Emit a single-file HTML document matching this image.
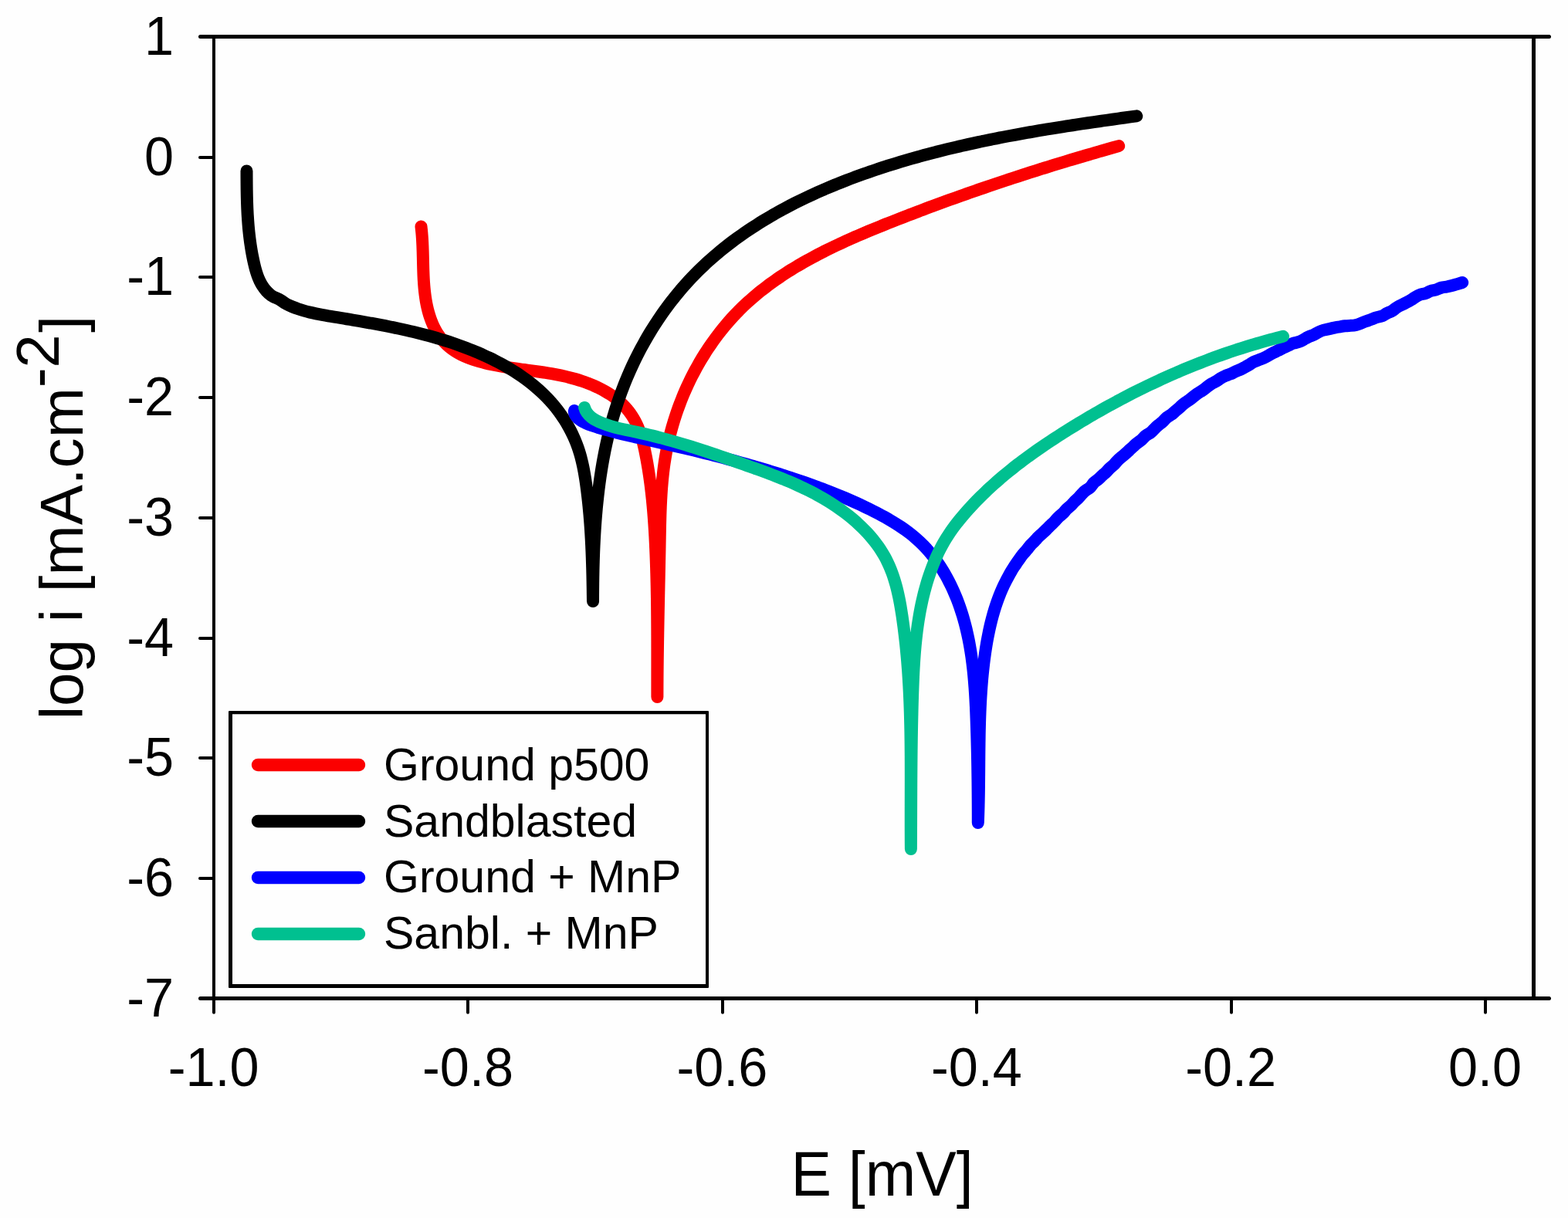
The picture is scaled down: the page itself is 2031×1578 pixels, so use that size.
<!DOCTYPE html>
<html lang="en">
<head>
<meta charset="utf-8">
<title>Polarization curves</title>
<style>
html,body{margin:0;padding:0;background:#fefefe;}
body{width:2031px;height:1578px;overflow:hidden;}
svg{display:block;}
text{font-family:"Liberation Sans",Arial,Helvetica,sans-serif;fill:#000;}
.tick{font-size:68.4px;}
.axt{font-size:78.7px;}
.leg{font-size:59.0px;}
.ax{stroke:#000;fill:none;stroke-linecap:butt;}
.cv{fill:none;stroke-width:16;stroke-linecap:round;stroke-linejoin:round;}
</style>
</head>
<body>
<svg width="2031" height="1578" viewBox="0 0 2031 1578">
<rect x="0" y="0" width="2031" height="1578" fill="#fefefe"/>
<g id="curves">
<path class="cv" stroke="#fb0000" d="M545.50 293.50C545.83 296.22 546.11 298.94 546.35 301.63C546.59 304.33 546.79 307.02 546.96 309.70C547.12 312.38 547.26 315.04 547.37 317.71C547.49 320.37 547.58 323.02 547.66 325.67C547.74 328.32 547.80 330.96 547.86 333.60C547.93 336.25 547.98 338.89 548.05 341.52C548.11 344.16 548.17 346.80 548.26 349.44C548.34 352.08 548.43 354.72 548.55 357.37C548.67 360.02 548.81 362.67 548.98 365.33C549.16 367.98 549.36 370.65 549.61 373.32C549.86 375.99 550.15 378.66 550.49 381.33C550.83 384.00 551.21 386.66 551.66 389.31C552.11 391.96 552.62 394.60 553.20 397.22C553.77 399.84 554.42 402.44 555.14 405.01C555.87 407.59 556.67 410.13 557.55 412.64C558.44 415.16 559.42 417.63 560.48 420.07C561.55 422.50 562.72 424.89 563.99 427.22C565.26 429.56 566.63 431.83 568.11 434.03C569.59 436.22 571.19 438.35 572.89 440.38C574.60 442.42 576.41 444.36 578.32 446.20C580.24 448.04 582.25 449.78 584.36 451.40C586.46 453.02 588.66 454.52 590.94 455.91C593.22 457.30 595.57 458.58 597.98 459.77C600.40 460.97 602.87 462.06 605.38 463.08C607.90 464.10 610.46 465.03 613.05 465.90C615.63 466.76 618.24 467.56 620.87 468.30C623.49 469.04 626.12 469.73 628.75 470.37C631.37 471.01 633.99 471.61 636.61 472.17C639.23 472.73 641.84 473.26 644.45 473.75C647.06 474.24 649.67 474.70 652.28 475.14C654.88 475.57 657.48 475.99 660.08 476.38C662.68 476.77 665.28 477.15 667.88 477.51C670.47 477.87 673.07 478.22 675.66 478.57C678.26 478.91 680.85 479.25 683.45 479.60C686.04 479.94 688.63 480.28 691.23 480.63C693.82 480.98 696.41 481.34 699.01 481.71C701.60 482.08 704.20 482.46 706.79 482.87C709.39 483.28 711.99 483.70 714.59 484.16C717.19 484.61 719.79 485.09 722.40 485.60C725.00 486.11 727.61 486.66 730.22 487.25C732.83 487.83 735.45 488.46 738.06 489.13C740.68 489.80 743.31 490.52 745.93 491.29C748.54 492.06 751.16 492.88 753.76 493.75C756.37 494.62 758.96 495.55 761.52 496.53C764.09 497.51 766.64 498.54 769.15 499.64C771.66 500.73 774.14 501.89 776.59 503.10C779.03 504.32 781.43 505.60 783.78 506.94C786.13 508.28 788.43 509.69 790.67 511.17C792.91 512.64 795.09 514.19 797.20 515.80C799.31 517.42 801.35 519.11 803.32 520.87C805.28 522.63 807.17 524.46 808.97 526.37C810.77 528.29 812.48 530.28 814.09 532.35C815.71 534.41 817.23 536.56 818.66 538.77C820.09 540.98 821.42 543.25 822.66 545.58C823.89 547.91 825.03 550.30 826.07 552.73C827.12 555.17 828.07 557.65 828.95 560.17C829.83 562.68 830.63 565.24 831.38 567.82C832.12 570.40 832.80 573.00 833.43 575.63C834.07 578.25 834.66 580.89 835.22 583.54C835.77 586.19 836.30 588.84 836.80 591.50C837.31 594.15 837.80 596.81 838.27 599.46C838.73 602.12 839.18 604.77 839.61 607.43C840.04 610.08 840.45 612.73 840.84 615.39C841.23 618.04 841.61 620.70 841.97 623.36C842.33 626.01 842.67 628.67 842.99 631.32C843.32 633.98 843.63 636.63 843.93 639.29C844.23 641.94 844.51 644.60 844.78 647.26C845.04 649.91 845.30 652.57 845.54 655.23C845.79 657.88 846.02 660.54 846.23 663.20C846.45 665.85 846.66 668.51 846.86 671.17C847.05 673.82 847.24 676.48 847.42 679.14C847.59 681.80 847.76 684.45 847.92 687.11C848.08 689.77 848.23 692.43 848.38 695.09C848.52 697.74 848.65 700.40 848.78 703.06C848.91 705.72 849.04 708.38 849.16 711.04C849.27 713.70 849.38 716.36 849.49 719.02C849.59 721.68 849.69 724.34 849.79 727.00C849.88 729.66 849.97 732.32 850.06 734.98C850.14 737.64 850.22 740.30 850.29 742.96C850.37 745.62 850.43 748.28 850.50 750.95C850.56 753.61 850.62 756.27 850.68 758.93C850.73 761.59 850.79 764.26 850.83 766.92C850.88 769.58 850.93 772.25 850.97 774.91C851.01 777.57 851.04 780.24 851.08 782.90C851.11 785.56 851.14 788.23 851.17 790.89C851.19 793.56 851.22 796.22 851.24 798.89C851.26 801.55 851.28 804.22 851.29 806.88C851.31 809.55 851.33 812.22 851.34 814.88C851.35 817.55 851.36 820.22 851.37 822.88C851.38 825.55 851.38 828.22 851.39 830.88C851.39 833.55 851.40 836.22 851.40 838.89C851.40 841.56 851.40 844.23 851.40 846.90C851.40 849.56 851.40 852.23 851.40 854.90C851.40 857.57 851.40 860.24 851.40 862.91C851.40 865.59 851.39 868.26 851.39 870.93C851.39 873.60 851.39 876.27 851.39 878.94C851.39 881.61 851.39 884.29 851.39 886.96C851.39 889.63 851.39 892.31 851.39 894.98C851.39 897.65 851.39 900.33 851.40 903.00L851.40 902.99C851.40 900.36 851.41 897.72 851.42 895.09C851.43 892.45 851.44 889.81 851.45 887.17C851.47 884.53 851.49 881.88 851.51 879.24C851.53 876.60 851.55 873.95 851.57 871.30C851.60 868.65 851.62 866.00 851.65 863.35C851.68 860.70 851.71 858.05 851.74 855.40C851.78 852.74 851.81 850.09 851.85 847.43C851.88 844.78 851.92 842.12 851.96 839.46C852.00 836.81 852.04 834.15 852.08 831.49C852.13 828.83 852.17 826.17 852.22 823.51C852.26 820.85 852.31 818.18 852.36 815.52C852.40 812.86 852.45 810.19 852.50 807.53C852.55 804.87 852.60 802.20 852.65 799.54C852.71 796.87 852.76 794.20 852.81 791.54C852.86 788.87 852.92 786.21 852.97 783.54C853.03 780.87 853.08 778.21 853.14 775.54C853.19 772.87 853.25 770.21 853.30 767.54C853.36 764.87 853.41 762.21 853.47 759.54C853.52 756.87 853.58 754.21 853.64 751.54C853.69 748.87 853.75 746.21 853.80 743.54C853.86 740.88 853.91 738.21 853.97 735.55C854.02 732.88 854.08 730.22 854.13 727.56C854.18 724.89 854.24 722.23 854.29 719.57C854.34 716.91 854.39 714.24 854.44 711.58C854.49 708.92 854.54 706.26 854.59 703.60C854.64 700.95 854.69 698.29 854.73 695.63C854.78 692.97 854.83 690.32 854.88 687.66C854.93 685.01 854.99 682.36 855.05 679.70C855.11 677.05 855.17 674.40 855.25 671.75C855.32 669.10 855.40 666.46 855.49 663.81C855.58 661.16 855.67 658.52 855.78 655.88C855.89 653.23 856.02 650.59 856.15 647.95C856.29 645.31 856.44 642.68 856.60 640.04C856.77 637.41 856.95 634.77 857.14 632.14C857.34 629.51 857.56 626.88 857.80 624.25C858.03 621.62 858.29 619.00 858.57 616.37C858.85 613.75 859.15 611.13 859.48 608.51C859.80 605.89 860.15 603.28 860.53 600.66C860.91 598.05 861.31 595.44 861.74 592.83C862.18 590.22 862.64 587.62 863.13 585.01C863.62 582.41 864.14 579.81 864.69 577.21C865.24 574.62 865.82 572.03 866.42 569.44C867.03 566.85 867.67 564.27 868.33 561.70C869.00 559.12 869.69 556.55 870.41 553.98C871.13 551.42 871.88 548.86 872.66 546.31C873.44 543.76 874.24 541.22 875.08 538.69C875.91 536.15 876.77 533.63 877.66 531.11C878.55 528.59 879.47 526.08 880.41 523.58C881.36 521.09 882.33 518.60 883.33 516.12C884.32 513.64 885.35 511.17 886.40 508.72C887.45 506.26 888.53 503.82 889.64 501.39C890.74 498.96 891.88 496.54 893.03 494.13C894.19 491.72 895.38 489.33 896.59 486.95C897.80 484.57 899.04 482.21 900.30 479.86C901.56 477.51 902.85 475.17 904.16 472.85C905.48 470.54 906.82 468.23 908.18 465.94C909.54 463.66 910.93 461.39 912.35 459.13C913.76 456.88 915.20 454.65 916.67 452.43C918.13 450.21 919.62 448.01 921.14 445.83C922.65 443.65 924.19 441.49 925.75 439.35C927.31 437.21 928.90 435.09 930.51 432.98C932.12 430.88 933.76 428.80 935.42 426.75C937.07 424.69 938.76 422.65 940.46 420.64C942.17 418.62 943.90 416.63 945.65 414.66C947.40 412.69 949.18 410.75 950.98 408.82C952.78 406.90 954.60 405.01 956.44 403.13C958.29 401.26 960.15 399.41 962.04 397.59C963.93 395.77 965.84 393.97 967.78 392.20C969.71 390.42 971.66 388.67 973.64 386.95C975.61 385.22 977.61 383.52 979.62 381.84C981.64 380.16 983.67 378.50 985.73 376.86C987.78 375.23 989.85 373.61 991.94 372.02C994.03 370.43 996.14 368.86 998.27 367.31C1000.39 365.76 1002.54 364.22 1004.70 362.71C1006.86 361.20 1009.03 359.71 1011.22 358.24C1013.41 356.77 1015.62 355.32 1017.84 353.88C1020.07 352.45 1022.30 351.04 1024.55 349.64C1026.80 348.24 1029.07 346.86 1031.35 345.50C1033.62 344.13 1035.92 342.79 1038.22 341.46C1040.52 340.13 1042.84 338.82 1045.17 337.52C1047.49 336.22 1049.83 334.94 1052.18 333.67C1054.53 332.41 1056.90 331.15 1059.27 329.92C1061.64 328.68 1064.02 327.45 1066.41 326.24C1068.80 325.03 1071.20 323.84 1073.60 322.65C1076.01 321.47 1078.43 320.30 1080.85 319.14C1083.27 317.98 1085.71 316.84 1088.14 315.70C1090.58 314.57 1093.03 313.44 1095.48 312.33C1097.93 311.22 1100.38 310.12 1102.84 309.02C1105.31 307.93 1107.77 306.85 1110.24 305.78C1112.71 304.70 1115.19 303.64 1117.67 302.59C1120.15 301.53 1122.63 300.48 1125.11 299.45C1127.60 298.41 1130.09 297.38 1132.58 296.35C1135.07 295.33 1137.56 294.32 1140.05 293.31C1142.54 292.30 1145.04 291.29 1147.53 290.30C1150.02 289.30 1152.52 288.31 1155.01 287.32C1157.50 286.34 1160.00 285.36 1162.49 284.38C1164.98 283.40 1167.47 282.43 1169.96 281.47C1172.45 280.50 1174.94 279.54 1177.43 278.58C1179.92 277.62 1182.40 276.67 1184.89 275.72C1187.38 274.77 1189.86 273.82 1192.35 272.88C1194.83 271.94 1197.32 271.00 1199.80 270.07C1202.29 269.14 1204.77 268.21 1207.26 267.29C1209.74 266.37 1212.22 265.45 1214.71 264.53C1217.19 263.62 1219.67 262.70 1222.16 261.80C1224.64 260.89 1227.12 259.99 1229.61 259.09C1232.09 258.19 1234.57 257.29 1237.06 256.40C1239.54 255.51 1242.02 254.62 1244.51 253.74C1246.99 252.86 1249.48 251.98 1251.96 251.10C1254.45 250.23 1256.93 249.35 1259.42 248.48C1261.91 247.62 1264.39 246.75 1266.88 245.89C1269.37 245.03 1271.86 244.17 1274.35 243.32C1276.84 242.46 1279.33 241.61 1281.82 240.77C1284.31 239.92 1286.80 239.07 1289.30 238.23C1291.79 237.39 1294.29 236.56 1296.78 235.72C1299.28 234.89 1301.78 234.06 1304.27 233.23C1306.77 232.40 1309.27 231.58 1311.78 230.76C1314.28 229.94 1316.78 229.12 1319.29 228.31C1321.79 227.49 1324.30 226.68 1326.81 225.87C1329.32 225.07 1331.83 224.26 1334.34 223.46C1336.85 222.66 1339.37 221.86 1341.89 221.06C1344.40 220.26 1346.92 219.47 1349.44 218.68C1351.96 217.89 1354.49 217.10 1357.01 216.31C1359.54 215.53 1362.07 214.75 1364.60 213.97C1367.13 213.19 1369.66 212.41 1372.20 211.63C1374.73 210.86 1377.27 210.09 1379.81 209.32C1382.36 208.55 1384.90 207.78 1387.45 207.02C1389.99 206.25 1392.54 205.49 1395.10 204.73C1397.65 203.97 1400.21 203.21 1402.76 202.46C1405.32 201.70 1407.89 200.95 1410.45 200.20C1413.02 199.45 1415.59 198.70 1418.16 197.95C1420.73 197.21 1423.31 196.46 1425.89 195.72C1428.47 194.98 1431.05 194.24 1433.64 193.50C1436.22 192.76 1438.81 192.03 1441.41 191.29C1444.00 190.56 1446.60 189.83 1449.20 189.10"/>
<path class="cv" stroke="#000000" d="M319.50 221.50C319.51 224.23 319.51 226.95 319.52 229.66C319.53 232.38 319.55 235.08 319.57 237.78C319.59 240.48 319.62 243.18 319.66 245.86C319.70 248.55 319.75 251.23 319.80 253.91C319.86 256.59 319.93 259.26 320.02 261.92C320.10 264.59 320.20 267.25 320.31 269.91C320.43 272.56 320.55 275.22 320.70 277.86C320.85 280.51 321.02 283.16 321.21 285.80C321.39 288.44 321.60 291.08 321.83 293.72C322.06 296.36 322.32 298.99 322.60 301.63C322.88 304.26 323.19 306.89 323.52 309.52C323.85 312.15 324.21 314.78 324.61 317.41C325.00 320.03 325.42 322.66 325.88 325.29C326.33 327.92 326.82 330.54 327.34 333.17C327.86 335.80 328.42 338.43 329.01 341.06C329.61 343.69 330.25 346.31 330.97 348.91C331.68 351.50 332.48 354.07 333.38 356.59C334.28 359.11 335.28 361.57 336.43 363.97C337.58 366.36 338.86 368.68 340.32 370.90C341.77 373.12 343.40 375.25 345.23 377.25C347.06 379.25 349.10 381.16 351.26 382.70C353.42 384.24 355.70 385.27 358.00 386.02C360.30 386.77 362.54 388.06 364.78 389.73C367.02 391.41 369.30 393.03 371.66 394.27C374.02 395.50 376.43 396.53 378.87 397.52C381.30 398.50 383.77 399.41 386.26 400.25C388.76 401.10 391.28 401.87 393.82 402.60C396.36 403.32 398.92 403.98 401.50 404.61C404.08 405.23 406.68 405.80 409.29 406.35C411.91 406.89 414.53 407.40 417.17 407.88C419.80 408.37 422.45 408.83 425.09 409.28C427.74 409.73 430.40 410.17 433.05 410.61C435.71 411.04 438.36 411.48 441.02 411.92C443.67 412.35 446.33 412.79 448.98 413.24C451.63 413.68 454.29 414.12 456.94 414.57C459.59 415.02 462.24 415.47 464.89 415.92C467.54 416.38 470.19 416.84 472.83 417.30C475.48 417.77 478.12 418.24 480.76 418.72C483.41 419.20 486.05 419.68 488.68 420.17C491.32 420.67 493.96 421.17 496.59 421.67C499.22 422.18 501.85 422.70 504.47 423.23C507.10 423.75 509.72 424.29 512.34 424.84C514.96 425.39 517.57 425.94 520.19 426.51C522.80 427.08 525.41 427.66 528.01 428.26C530.61 428.85 533.21 429.46 535.80 430.08C538.40 430.70 540.99 431.34 543.57 431.99C546.16 432.64 548.74 433.30 551.31 433.98C553.89 434.66 556.45 435.36 559.02 436.07C561.58 436.78 564.14 437.51 566.69 438.26C569.24 439.01 571.79 439.78 574.32 440.56C576.86 441.35 579.40 442.15 581.92 442.97C584.45 443.80 586.97 444.64 589.48 445.51C591.99 446.37 594.49 447.26 596.99 448.16C599.49 449.07 601.98 450.00 604.46 450.95C606.94 451.91 609.42 452.88 611.88 453.88C614.35 454.88 616.81 455.91 619.26 456.96C621.70 458.01 624.15 459.08 626.58 460.18C629.01 461.28 631.43 462.41 633.84 463.56C636.25 464.72 638.65 465.90 641.04 467.11C643.43 468.32 645.80 469.55 648.16 470.82C650.52 472.09 652.86 473.38 655.18 474.71C657.50 476.04 659.81 477.39 662.09 478.78C664.37 480.17 666.64 481.59 668.88 483.04C671.11 484.49 673.33 485.98 675.52 487.49C677.71 489.01 679.88 490.56 682.01 492.15C684.15 493.73 686.26 495.35 688.34 497.01C690.42 498.66 692.47 500.35 694.48 502.08C696.50 503.80 698.48 505.57 700.43 507.37C702.38 509.17 704.29 511.01 706.16 512.88C708.04 514.76 709.88 516.67 711.67 518.63C713.47 520.58 715.23 522.58 716.95 524.61C718.66 526.65 720.33 528.72 721.96 530.84C723.59 532.96 725.17 535.11 726.71 537.31C728.25 539.50 729.73 541.73 731.17 544.00C732.61 546.26 734.00 548.56 735.34 550.90C736.67 553.23 737.96 555.59 739.19 557.98C740.41 560.37 741.59 562.79 742.70 565.24C743.82 567.68 744.88 570.15 745.88 572.65C746.87 575.14 747.81 577.66 748.69 580.19C749.56 582.73 750.37 585.28 751.13 587.85C751.88 590.42 752.58 593.01 753.23 595.61C753.88 598.21 754.48 600.82 755.04 603.44C755.59 606.07 756.11 608.70 756.59 611.34C757.07 613.98 757.52 616.63 757.94 619.28C758.36 621.94 758.75 624.59 759.12 627.25C759.49 629.91 759.84 632.57 760.18 635.23C760.52 637.89 760.84 640.55 761.15 643.20C761.45 645.86 761.75 648.52 762.03 651.17C762.31 653.83 762.57 656.48 762.83 659.14C763.08 661.79 763.32 664.45 763.55 667.11C763.78 669.76 763.99 672.42 764.20 675.07C764.40 677.73 764.59 680.38 764.78 683.04C764.96 685.69 765.13 688.35 765.29 691.00C765.45 693.66 765.60 696.32 765.75 698.97C765.89 701.63 766.02 704.29 766.15 706.95C766.27 709.61 766.39 712.26 766.50 714.92C766.61 717.58 766.71 720.24 766.80 722.91C766.89 725.57 766.98 728.23 767.06 730.89C767.14 733.56 767.22 736.22 767.29 738.89C767.35 741.56 767.42 744.22 767.48 746.89C767.53 749.56 767.59 752.23 767.64 754.90C767.69 757.58 767.73 760.25 767.78 762.93C767.82 765.60 767.86 768.28 767.89 770.96C767.93 773.64 767.96 776.32 768.00 779.00L768.02 778.99C768.03 776.35 768.04 773.71 768.05 771.07C768.07 768.42 768.08 765.78 768.11 763.12C768.13 760.47 768.16 757.82 768.19 755.16C768.23 752.50 768.27 749.84 768.31 747.17C768.36 744.51 768.41 741.84 768.47 739.17C768.53 736.50 768.59 733.82 768.67 731.15C768.74 728.47 768.82 725.80 768.91 723.12C768.99 720.44 769.09 717.76 769.19 715.07C769.30 712.39 769.41 709.71 769.53 707.02C769.65 704.34 769.78 701.65 769.92 698.96C770.06 696.28 770.21 693.59 770.37 690.90C770.53 688.21 770.70 685.53 770.88 682.84C771.06 680.15 771.25 677.46 771.45 674.77C771.65 672.08 771.86 669.40 772.09 666.71C772.31 664.02 772.55 661.34 772.80 658.65C773.05 655.97 773.31 653.28 773.59 650.60C773.86 647.92 774.15 645.24 774.45 642.56C774.75 639.88 775.07 637.20 775.39 634.53C775.72 631.85 776.07 629.18 776.42 626.51C776.78 623.84 777.15 621.17 777.54 618.50C777.93 615.84 778.33 613.18 778.75 610.52C779.17 607.86 779.60 605.20 780.05 602.55C780.50 599.90 780.97 597.25 781.45 594.61C781.94 591.96 782.44 589.32 782.96 586.69C783.48 584.05 784.01 581.42 784.57 578.79C785.12 576.16 785.69 573.54 786.28 570.92C786.88 568.31 787.48 565.69 788.11 563.09C788.74 560.48 789.39 557.88 790.06 555.28C790.73 552.69 791.41 550.10 792.12 547.52C792.83 544.93 793.56 542.36 794.31 539.78C795.06 537.21 795.83 534.65 796.62 532.09C797.41 529.53 798.23 526.98 799.06 524.44C799.90 521.90 800.75 519.36 801.63 516.83C802.51 514.31 803.41 511.78 804.33 509.27C805.25 506.76 806.20 504.26 807.16 501.76C808.13 499.27 809.11 496.78 810.12 494.30C811.13 491.83 812.16 489.36 813.21 486.90C814.26 484.44 815.33 481.99 816.42 479.55C817.51 477.12 818.62 474.69 819.76 472.27C820.89 469.85 822.05 467.45 823.22 465.05C824.40 462.65 825.59 460.27 826.81 457.90C828.03 455.52 829.26 453.16 830.52 450.81C831.78 448.46 833.06 446.13 834.36 443.80C835.65 441.48 836.97 439.16 838.31 436.86C839.65 434.57 841.01 432.28 842.39 430.01C843.77 427.73 845.17 425.47 846.59 423.23C848.01 420.98 849.45 418.75 850.91 416.54C852.37 414.32 853.85 412.12 855.35 409.93C856.85 407.74 858.37 405.57 859.91 403.41C861.45 401.26 863.01 399.11 864.59 396.99C866.17 394.86 867.77 392.75 869.38 390.66C871.00 388.56 872.64 386.49 874.29 384.43C875.95 382.37 877.63 380.32 879.32 378.30C881.02 376.27 882.73 374.26 884.46 372.27C886.20 370.28 887.95 368.31 889.72 366.35C891.49 364.40 893.28 362.46 895.09 360.54C896.90 358.62 898.73 356.72 900.57 354.84C902.42 352.96 904.28 351.10 906.17 349.26C908.05 347.42 909.95 345.59 911.87 343.79C913.79 341.98 915.73 340.20 917.68 338.43C919.63 336.66 921.61 334.91 923.59 333.18C925.58 331.45 927.59 329.73 929.61 328.04C931.63 326.34 933.66 324.66 935.72 323.00C937.77 321.34 939.84 319.70 941.92 318.08C944.01 316.45 946.11 314.84 948.22 313.25C950.33 311.66 952.46 310.09 954.61 308.53C956.75 306.98 958.91 305.44 961.08 303.91C963.25 302.39 965.43 300.88 967.63 299.39C969.83 297.90 972.04 296.43 974.27 294.97C976.49 293.52 978.73 292.07 980.98 290.65C983.23 289.22 985.50 287.82 987.77 286.42C990.05 285.03 992.33 283.65 994.63 282.29C996.93 280.93 999.24 279.58 1001.56 278.25C1003.88 276.92 1006.21 275.60 1008.56 274.30C1010.90 273.00 1013.25 271.71 1015.61 270.44C1017.98 269.17 1020.35 267.91 1022.73 266.67C1025.12 265.42 1027.51 264.20 1029.91 262.98C1032.31 261.77 1034.72 260.57 1037.14 259.39C1039.56 258.20 1041.99 257.03 1044.43 255.87C1046.86 254.71 1049.31 253.57 1051.76 252.44C1054.21 251.31 1056.67 250.19 1059.14 249.09C1061.60 247.99 1064.08 246.90 1066.56 245.82C1069.04 244.74 1071.53 243.68 1074.02 242.63C1076.51 241.58 1079.01 240.54 1081.52 239.51C1084.03 238.49 1086.54 237.48 1089.06 236.47C1091.57 235.47 1094.09 234.49 1096.62 233.51C1099.15 232.53 1101.68 231.57 1104.22 230.62C1106.75 229.67 1109.30 228.73 1111.84 227.80C1114.38 226.87 1116.93 225.95 1119.49 225.05C1122.04 224.14 1124.59 223.25 1127.15 222.36C1129.71 221.48 1132.27 220.61 1134.84 219.75C1137.40 218.89 1139.97 218.04 1142.53 217.20C1145.10 216.36 1147.67 215.53 1150.25 214.71C1152.82 213.90 1155.39 213.09 1157.97 212.29C1160.55 211.49 1163.12 210.71 1165.70 209.93C1168.29 209.15 1170.87 208.38 1173.45 207.63C1176.04 206.87 1178.62 206.12 1181.21 205.38C1183.80 204.64 1186.39 203.92 1188.98 203.20C1191.57 202.48 1194.16 201.77 1196.76 201.07C1199.35 200.36 1201.95 199.67 1204.55 198.99C1207.15 198.30 1209.75 197.63 1212.35 196.96C1214.95 196.30 1217.55 195.64 1220.15 194.99C1222.76 194.34 1225.36 193.70 1227.97 193.07C1230.58 192.43 1233.19 191.81 1235.79 191.19C1238.40 190.57 1241.01 189.97 1243.63 189.36C1246.24 188.76 1248.85 188.17 1251.47 187.58C1254.08 186.99 1256.70 186.41 1259.31 185.84C1261.93 185.27 1264.55 184.70 1267.17 184.15C1269.79 183.59 1272.40 183.04 1275.03 182.49C1277.65 181.95 1280.27 181.41 1282.89 180.88C1285.51 180.34 1288.14 179.82 1290.76 179.30C1293.39 178.78 1296.01 178.27 1298.64 177.76C1301.26 177.25 1303.89 176.75 1306.52 176.25C1309.14 175.76 1311.77 175.27 1314.40 174.78C1317.03 174.30 1319.66 173.82 1322.29 173.35C1324.92 172.87 1327.55 172.40 1330.18 171.94C1332.81 171.48 1335.44 171.02 1338.07 170.56C1340.70 170.11 1343.34 169.66 1345.97 169.21C1348.60 168.77 1351.23 168.33 1353.87 167.89C1356.50 167.45 1359.13 167.02 1361.77 166.59C1364.40 166.17 1367.03 165.74 1369.67 165.32C1372.30 164.90 1374.93 164.48 1377.57 164.07C1380.20 163.66 1382.84 163.25 1385.47 162.84C1388.10 162.44 1390.74 162.03 1393.37 161.63C1396.01 161.23 1398.64 160.83 1401.27 160.44C1403.91 160.05 1406.54 159.65 1409.17 159.27C1411.81 158.88 1414.44 158.49 1417.07 158.11C1419.71 157.72 1422.34 157.34 1424.97 156.96C1427.60 156.58 1430.24 156.20 1432.87 155.83C1435.50 155.45 1438.13 155.08 1440.76 154.71C1443.39 154.33 1446.02 153.96 1448.65 153.59C1451.28 153.22 1453.91 152.86 1456.54 152.49C1459.16 152.12 1461.79 151.76 1464.42 151.39C1467.05 151.03 1469.67 150.66 1472.30 150.30"/>
<path class="cv" stroke="#0000ff" d="M743.89 532.02C743.72 534.76 744.67 537.11 746.19 539.16C747.71 541.20 749.76 542.94 751.91 544.44C754.05 545.95 756.37 547.22 758.81 548.33C761.24 549.44 763.78 550.40 766.37 551.27C768.95 552.14 771.58 552.93 774.20 553.72C776.81 554.50 779.42 555.25 782.02 555.99C784.63 556.73 787.23 557.44 789.83 558.14C792.42 558.84 795.01 559.52 797.60 560.18C800.19 560.84 802.78 561.49 805.36 562.13C807.94 562.76 810.52 563.38 813.10 563.99C815.68 564.60 818.26 565.20 820.83 565.79C823.40 566.39 825.98 566.97 828.55 567.55C831.12 568.13 833.69 568.70 836.26 569.27C838.82 569.84 841.39 570.40 843.96 570.97C846.53 571.53 849.10 572.10 851.66 572.67C854.23 573.23 856.80 573.80 859.37 574.37C861.94 574.95 864.51 575.52 867.08 576.11C869.65 576.69 872.22 577.28 874.79 577.87C877.37 578.46 879.94 579.06 882.51 579.66C885.08 580.27 887.66 580.87 890.23 581.49C892.81 582.10 895.38 582.72 897.95 583.34C900.53 583.97 903.10 584.60 905.67 585.23C908.25 585.86 910.82 586.50 913.39 587.15C915.97 587.79 918.54 588.44 921.11 589.10C923.68 589.76 926.26 590.42 928.83 591.09C931.40 591.75 933.97 592.43 936.54 593.11C939.10 593.79 941.67 594.47 944.24 595.16C946.81 595.85 949.37 596.55 951.94 597.25C954.50 597.96 957.06 598.67 959.63 599.38C962.19 600.10 964.75 600.82 967.31 601.55C969.86 602.27 972.42 603.01 974.97 603.75C977.53 604.49 980.08 605.23 982.63 605.99C985.18 606.74 987.73 607.50 990.28 608.27C992.82 609.03 995.37 609.80 997.91 610.58C1000.45 611.36 1002.99 612.15 1005.53 612.94C1008.06 613.74 1010.60 614.53 1013.13 615.34C1015.66 616.15 1018.18 616.96 1020.71 617.78C1023.23 618.60 1025.76 619.43 1028.27 620.27C1030.79 621.11 1033.31 621.95 1035.82 622.81C1038.33 623.66 1040.84 624.53 1043.34 625.40C1045.85 626.27 1048.35 627.16 1050.85 628.05C1053.34 628.95 1055.84 629.85 1058.33 630.77C1060.82 631.68 1063.30 632.61 1065.78 633.55C1068.26 634.49 1070.74 635.44 1073.21 636.40C1075.69 637.36 1078.16 638.34 1080.62 639.33C1083.08 640.32 1085.54 641.32 1088.00 642.34C1090.45 643.35 1092.90 644.38 1095.34 645.43C1097.79 646.47 1100.23 647.53 1102.66 648.61C1105.10 649.68 1107.53 650.77 1109.95 651.88C1112.37 652.98 1114.79 654.11 1117.20 655.24C1119.62 656.38 1122.02 657.54 1124.43 658.71C1126.83 659.89 1129.22 661.08 1131.61 662.29C1134.00 663.49 1136.38 664.72 1138.75 665.98C1141.12 667.23 1143.47 668.50 1145.81 669.80C1148.15 671.10 1150.48 672.43 1152.78 673.78C1155.08 675.13 1157.37 676.51 1159.62 677.93C1161.88 679.34 1164.12 680.78 1166.33 682.26C1168.53 683.74 1170.71 685.25 1172.86 686.80C1175.01 688.35 1177.12 689.94 1179.20 691.56C1181.28 693.19 1183.32 694.86 1185.33 696.57C1187.33 698.28 1189.30 700.03 1191.22 701.83C1193.14 703.62 1195.01 705.47 1196.84 707.36C1198.67 709.25 1200.46 711.19 1202.20 713.17C1203.94 715.15 1205.63 717.17 1207.28 719.24C1208.93 721.30 1210.54 723.40 1212.11 725.54C1213.67 727.68 1215.19 729.85 1216.67 732.06C1218.15 734.26 1219.58 736.50 1220.97 738.77C1222.37 741.04 1223.72 743.34 1225.03 745.66C1226.34 747.99 1227.61 750.34 1228.84 752.71C1230.07 755.09 1231.26 757.48 1232.40 759.90C1233.55 762.32 1234.66 764.75 1235.73 767.21C1236.80 769.66 1237.83 772.13 1238.83 774.61C1239.82 777.09 1240.78 779.59 1241.69 782.09C1242.61 784.60 1243.49 787.11 1244.33 789.64C1245.18 792.16 1245.98 794.68 1246.76 797.22C1247.53 799.75 1248.26 802.29 1248.97 804.84C1249.67 807.39 1250.34 809.94 1250.98 812.50C1251.62 815.05 1252.22 817.62 1252.80 820.19C1253.38 822.75 1253.93 825.33 1254.45 827.91C1254.97 830.49 1255.46 833.07 1255.93 835.66C1256.39 838.25 1256.83 840.84 1257.25 843.44C1257.67 846.04 1258.06 848.64 1258.43 851.25C1258.80 853.85 1259.14 856.46 1259.47 859.08C1259.80 861.69 1260.10 864.31 1260.39 866.93C1260.67 869.56 1260.94 872.18 1261.19 874.81C1261.44 877.44 1261.68 880.07 1261.89 882.71C1262.11 885.34 1262.31 887.98 1262.50 890.63C1262.69 893.27 1262.87 895.91 1263.03 898.56C1263.20 901.20 1263.35 903.85 1263.49 906.51C1263.63 909.16 1263.77 911.81 1263.89 914.47C1264.01 917.12 1264.13 919.78 1264.24 922.44C1264.35 925.10 1264.45 927.76 1264.55 930.42C1264.65 933.08 1264.74 935.75 1264.83 938.41C1264.92 941.08 1265.01 943.74 1265.09 946.41C1265.18 949.08 1265.26 951.74 1265.33 954.41C1265.41 957.08 1265.48 959.75 1265.55 962.42C1265.62 965.08 1265.69 967.75 1265.75 970.42C1265.81 973.09 1265.87 975.76 1265.93 978.43C1265.98 981.10 1266.04 983.77 1266.09 986.43C1266.14 989.10 1266.18 991.77 1266.23 994.43C1266.27 997.10 1266.31 999.76 1266.35 1002.43C1266.39 1005.09 1266.42 1007.76 1266.46 1010.42C1266.49 1013.08 1266.52 1015.74 1266.55 1018.40C1266.58 1021.05 1266.60 1023.71 1266.62 1026.37C1266.65 1029.02 1266.67 1031.67 1266.68 1034.32C1266.70 1036.97 1266.72 1039.62 1266.73 1042.27C1266.75 1044.91 1266.76 1047.55 1266.77 1050.19C1266.78 1052.83 1266.78 1055.47 1266.79 1058.10C1266.79 1060.74 1266.80 1063.37 1266.80 1066.00L1266.79 1066.00C1266.89 1063.63 1266.99 1061.25 1267.07 1058.88C1267.15 1056.51 1267.23 1054.14 1267.30 1051.77C1267.38 1049.40 1267.44 1047.03 1267.50 1044.67C1267.56 1042.30 1267.61 1039.93 1267.66 1037.57C1267.71 1035.20 1267.76 1032.84 1267.80 1030.48C1267.84 1028.11 1267.87 1025.75 1267.91 1023.39C1267.94 1021.03 1267.97 1018.67 1268.00 1016.31C1268.03 1013.95 1268.05 1011.59 1268.07 1009.23C1268.10 1006.87 1268.12 1004.51 1268.14 1002.16C1268.16 999.80 1268.18 997.44 1268.20 995.09C1268.22 992.73 1268.23 990.37 1268.25 988.02C1268.27 985.66 1268.29 983.31 1268.31 980.95C1268.33 978.60 1268.36 976.24 1268.38 973.89C1268.40 971.53 1268.43 969.18 1268.46 966.82C1268.49 964.47 1268.52 962.11 1268.56 959.76C1268.59 957.40 1268.63 955.05 1268.67 952.70C1268.71 950.34 1268.76 947.99 1268.81 945.63C1268.87 943.28 1268.92 940.92 1268.99 938.57C1269.05 936.21 1269.12 933.86 1269.19 931.50C1269.27 929.14 1269.35 926.79 1269.44 924.43C1269.53 922.07 1269.62 919.72 1269.73 917.36C1269.83 915.00 1269.94 912.64 1270.06 910.28C1270.18 907.92 1270.31 905.57 1270.45 903.20C1270.59 900.84 1270.74 898.48 1270.90 896.12C1271.06 893.76 1271.23 891.40 1271.41 889.03C1271.59 886.67 1271.78 884.30 1271.98 881.94C1272.18 879.57 1272.40 877.21 1272.63 874.84C1272.85 872.47 1273.09 870.10 1273.35 867.73C1273.60 865.36 1273.86 862.99 1274.14 860.62C1274.43 858.25 1274.72 855.87 1275.03 853.50C1275.34 851.12 1275.66 848.75 1276.00 846.38C1276.34 844.00 1276.70 841.63 1277.07 839.26C1277.45 836.89 1277.84 834.53 1278.25 832.17C1278.66 829.81 1279.09 827.45 1279.54 825.11C1279.99 822.76 1280.46 820.42 1280.95 818.09C1281.44 815.75 1281.95 813.43 1282.48 811.12C1283.01 808.80 1283.57 806.50 1284.15 804.21C1284.73 801.92 1285.33 799.64 1285.96 797.37C1286.59 795.11 1287.24 792.86 1287.92 790.62C1288.60 788.39 1289.30 786.17 1290.03 783.96C1290.76 781.76 1291.52 779.58 1292.31 777.41C1293.10 775.25 1293.91 773.10 1294.76 770.97C1295.60 768.85 1296.48 766.74 1297.38 764.65C1298.29 762.56 1299.22 760.48 1300.19 758.43C1301.17 756.38 1302.18 754.35 1303.22 752.33C1304.26 750.31 1305.32 748.31 1306.41 746.31C1307.50 744.31 1308.61 742.33 1309.77 740.36C1310.92 738.39 1312.12 736.44 1313.37 734.51C1314.63 732.59 1315.95 730.70 1317.26 728.79C1318.57 726.88 1319.88 724.96 1321.23 723.05C1322.59 721.13 1323.99 719.24 1325.52 717.43C1327.05 715.61 1328.70 713.89 1330.22 712.02C1331.74 710.15 1333.13 708.13 1334.75 706.32C1336.38 704.51 1338.25 702.90 1339.98 701.14C1341.70 699.37 1343.27 697.46 1345.02 695.70C1346.77 693.95 1348.69 692.36 1350.53 690.69C1352.38 689.02 1354.14 687.27 1355.89 685.52C1357.64 683.77 1359.38 682.01 1361.17 680.30C1362.95 678.60 1364.79 676.96 1366.45 675.17C1368.12 673.38 1369.62 671.44 1371.37 669.78C1373.12 668.11 1375.12 666.71 1376.83 665.03C1378.54 663.35 1379.96 661.39 1381.63 659.71C1383.31 658.03 1385.24 656.62 1386.94 654.99C1388.64 653.35 1390.10 651.48 1391.75 649.82C1393.40 648.16 1395.25 646.71 1396.89 645.05C1398.54 643.40 1399.97 641.54 1401.53 639.81C1403.10 638.09 1404.79 636.51 1406.72 635.17C1408.65 633.84 1410.81 632.76 1412.44 631.11C1414.06 629.47 1415.16 627.27 1416.74 625.59C1418.33 623.91 1420.42 622.75 1422.22 621.31C1424.03 619.86 1425.57 618.12 1427.24 616.53C1428.91 614.94 1430.72 613.50 1432.38 611.89C1434.03 610.29 1435.53 608.51 1437.23 606.94C1438.92 605.37 1440.81 604.01 1442.45 602.37C1444.10 600.74 1445.49 598.84 1447.09 597.15C1448.68 595.45 1450.47 593.97 1452.25 592.48C1454.03 590.99 1455.81 589.49 1457.55 587.94C1459.29 586.39 1460.99 584.80 1462.72 583.22C1464.44 581.65 1466.19 580.09 1467.91 578.50C1469.63 576.91 1471.33 575.28 1473.21 573.86C1475.09 572.44 1477.16 571.23 1478.90 569.63C1480.64 568.03 1482.05 566.04 1483.90 564.56C1485.76 563.07 1488.05 562.08 1489.98 560.67C1491.91 559.25 1493.48 557.41 1495.14 555.67C1496.81 553.94 1498.58 552.30 1500.46 550.80C1502.35 549.30 1504.36 547.92 1506.11 546.23C1507.86 544.55 1509.35 542.55 1511.24 541.02C1513.13 539.48 1515.41 538.40 1517.41 536.99C1519.41 535.58 1521.13 533.83 1522.94 532.19C1524.76 530.56 1526.68 529.05 1528.50 527.42C1530.32 525.79 1532.05 524.05 1533.98 522.57C1535.91 521.09 1538.04 519.87 1540.02 518.48C1542.01 517.08 1543.85 515.51 1545.71 513.98C1547.58 512.45 1549.47 510.95 1551.46 509.62C1553.45 508.29 1555.54 507.13 1557.51 505.80C1559.48 504.47 1561.32 502.98 1563.18 501.52C1565.04 500.06 1566.92 498.62 1568.91 497.42C1570.91 496.22 1573.04 495.25 1575.02 494.07C1577.01 492.89 1578.87 491.50 1580.80 490.26C1582.73 489.03 1584.74 487.94 1586.86 487.08C1588.97 486.22 1591.18 485.57 1593.28 484.71C1595.38 483.85 1597.38 482.78 1599.44 481.84C1601.51 480.90 1603.64 480.09 1605.72 479.15C1607.80 478.21 1609.82 477.13 1611.85 476.05C1613.88 474.96 1615.92 473.87 1617.91 472.63C1619.89 471.40 1621.82 470.03 1623.90 468.96C1625.99 467.88 1628.23 467.10 1630.47 466.30C1632.70 465.49 1634.94 464.66 1637.09 463.67C1639.25 462.67 1641.33 461.52 1643.39 460.33C1645.46 459.14 1647.51 457.92 1649.63 456.84C1651.75 455.76 1653.94 454.83 1656.07 453.78C1658.21 452.73 1660.29 451.56 1662.43 450.55C1664.58 449.53 1666.79 448.67 1668.93 447.65C1671.07 446.62 1673.14 445.44 1675.41 444.71C1677.67 443.98 1680.13 443.70 1682.40 442.97C1684.67 442.24 1686.75 441.07 1688.80 439.84C1690.85 438.60 1692.87 437.30 1695.04 436.34C1697.21 435.38 1699.54 434.75 1701.70 433.75C1703.86 432.75 1705.85 431.39 1707.97 430.27C1710.08 429.15 1712.33 428.29 1714.62 427.66C1716.90 427.03 1719.24 426.64 1721.53 426.15C1723.83 425.66 1726.07 425.06 1728.37 424.58C1730.66 424.10 1733.00 423.75 1735.33 423.35C1737.67 422.95 1740.01 422.50 1742.37 422.25C1744.73 422.01 1747.11 421.97 1749.49 421.86C1751.88 421.74 1754.27 421.55 1756.58 420.99C1758.88 420.43 1761.10 419.49 1763.31 418.59C1765.52 417.70 1767.72 416.85 1769.95 416.07C1772.18 415.29 1774.44 414.59 1776.62 413.70C1778.80 412.82 1780.91 411.75 1783.22 411.11C1785.52 410.47 1788.03 410.27 1790.22 409.37C1792.41 408.48 1794.28 406.88 1796.38 405.79C1798.48 404.70 1800.82 404.10 1802.88 402.96C1804.93 401.82 1806.70 400.14 1808.64 398.78C1810.58 397.42 1812.69 396.39 1814.81 395.34C1816.94 394.30 1819.07 393.23 1821.20 392.17C1823.33 391.11 1825.45 390.05 1827.46 388.81C1829.48 387.58 1831.39 386.17 1833.37 384.84C1835.35 383.50 1837.40 382.24 1839.67 381.57C1841.95 380.90 1844.44 380.82 1846.67 380.03C1848.90 379.23 1850.88 377.73 1853.10 376.96C1855.32 376.19 1857.79 376.15 1860.06 375.46C1862.33 374.78 1864.40 373.45 1866.66 372.75C1868.91 372.05 1871.35 371.98 1873.70 371.65C1876.06 371.31 1878.34 370.71 1880.62 370.07C1882.89 369.43 1885.15 368.74 1887.42 368.05C1889.68 367.35 1891.94 366.66 1894.20 365.99"/>
<path class="cv" stroke="#00c090" d="M757.09 527.92C757.77 530.53 758.90 532.84 760.37 534.91C761.85 536.98 763.66 538.80 765.71 540.42C767.75 542.05 770.03 543.48 772.42 544.75C774.82 546.03 777.33 547.16 779.85 548.18C782.37 549.21 784.91 550.13 787.46 550.96C790.00 551.80 792.56 552.56 795.13 553.25C797.70 553.95 800.28 554.58 802.86 555.18C805.44 555.78 808.03 556.34 810.62 556.88C813.21 557.42 815.81 557.95 818.40 558.49C820.99 559.02 823.58 559.57 826.17 560.13C828.76 560.69 831.35 561.28 833.93 561.87C836.52 562.47 839.10 563.08 841.68 563.71C844.26 564.33 846.84 564.97 849.41 565.63C851.99 566.28 854.56 566.95 857.13 567.63C859.70 568.32 862.27 569.01 864.84 569.72C867.40 570.43 869.97 571.15 872.53 571.88C875.09 572.61 877.65 573.35 880.21 574.11C882.77 574.86 885.32 575.63 887.87 576.40C890.43 577.17 892.98 577.96 895.52 578.75C898.07 579.54 900.62 580.35 903.16 581.16C905.70 581.97 908.24 582.79 910.78 583.61C913.32 584.44 915.85 585.27 918.39 586.11C920.92 586.95 923.45 587.80 925.98 588.65C928.51 589.50 931.03 590.36 933.55 591.22C936.08 592.09 938.60 592.95 941.11 593.83C943.63 594.70 946.15 595.57 948.66 596.45C951.17 597.33 953.68 598.21 956.19 599.10C958.70 599.98 961.20 600.87 963.70 601.76C966.20 602.65 968.70 603.54 971.20 604.43C973.70 605.33 976.19 606.22 978.68 607.12C981.17 608.01 983.66 608.92 986.14 609.82C988.62 610.73 991.10 611.65 993.58 612.57C996.05 613.49 998.52 614.43 1000.98 615.37C1003.45 616.31 1005.90 617.27 1008.36 618.24C1010.81 619.21 1013.26 620.19 1015.70 621.19C1018.14 622.19 1020.57 623.21 1023.00 624.24C1025.42 625.27 1027.84 626.33 1030.25 627.40C1032.67 628.48 1035.07 629.57 1037.46 630.69C1039.86 631.81 1042.25 632.95 1044.62 634.12C1047.00 635.29 1049.37 636.48 1051.73 637.70C1054.09 638.93 1056.44 640.18 1058.78 641.46C1061.12 642.74 1063.45 644.06 1065.76 645.40C1068.08 646.75 1070.39 648.13 1072.68 649.54C1074.97 650.95 1077.25 652.40 1079.51 653.88C1081.76 655.36 1084.00 656.87 1086.22 658.42C1088.44 659.96 1090.63 661.54 1092.80 663.15C1094.97 664.76 1097.11 666.41 1099.22 668.09C1101.33 669.77 1103.41 671.48 1105.46 673.22C1107.51 674.97 1109.52 676.74 1111.50 678.56C1113.47 680.37 1115.41 682.21 1117.30 684.09C1119.20 685.97 1121.05 687.88 1122.86 689.82C1124.67 691.77 1126.44 693.75 1128.15 695.76C1129.86 697.77 1131.53 699.81 1133.14 701.89C1134.75 703.97 1136.31 706.08 1137.82 708.22C1139.32 710.37 1140.76 712.55 1142.15 714.76C1143.53 716.97 1144.86 719.21 1146.12 721.49C1147.38 723.77 1148.57 726.08 1149.70 728.43C1150.83 730.77 1151.89 733.15 1152.90 735.56C1153.90 737.96 1154.85 740.40 1155.74 742.86C1156.63 745.32 1157.47 747.80 1158.25 750.31C1159.04 752.82 1159.78 755.35 1160.48 757.90C1161.18 760.44 1161.83 763.01 1162.44 765.60C1163.06 768.18 1163.64 770.78 1164.18 773.39C1164.73 776.00 1165.24 778.62 1165.72 781.25C1166.21 783.88 1166.67 786.52 1167.10 789.17C1167.54 791.81 1167.95 794.46 1168.35 797.12C1168.75 799.77 1169.13 802.42 1169.50 805.08C1169.87 807.73 1170.23 810.38 1170.57 813.04C1170.91 815.69 1171.25 818.35 1171.56 821.00C1171.88 823.66 1172.19 826.31 1172.49 828.96C1172.78 831.62 1173.07 834.27 1173.34 836.93C1173.61 839.58 1173.87 842.24 1174.12 844.89C1174.37 847.54 1174.61 850.20 1174.84 852.85C1175.07 855.51 1175.29 858.16 1175.50 860.82C1175.71 863.47 1175.91 866.13 1176.10 868.78C1176.29 871.44 1176.47 874.09 1176.64 876.75C1176.81 879.40 1176.97 882.06 1177.12 884.71C1177.28 887.37 1177.42 890.02 1177.56 892.68C1177.70 895.33 1177.83 897.99 1177.95 900.64C1178.07 903.30 1178.18 905.95 1178.29 908.61C1178.40 911.27 1178.50 913.92 1178.59 916.58C1178.68 919.23 1178.77 921.89 1178.85 924.55C1178.93 927.20 1179.00 929.86 1179.07 932.51C1179.14 935.17 1179.20 937.83 1179.26 940.48C1179.32 943.14 1179.37 945.79 1179.41 948.45C1179.46 951.11 1179.50 953.76 1179.54 956.42C1179.58 959.08 1179.61 961.73 1179.64 964.39C1179.67 967.05 1179.69 969.71 1179.71 972.36C1179.74 975.02 1179.75 977.68 1179.77 980.33C1179.78 982.99 1179.79 985.65 1179.80 988.31C1179.81 990.96 1179.82 993.62 1179.82 996.28C1179.83 998.94 1179.83 1001.60 1179.83 1004.25C1179.83 1006.91 1179.83 1009.57 1179.83 1012.23C1179.83 1014.89 1179.82 1017.55 1179.82 1020.20C1179.81 1022.86 1179.81 1025.52 1179.80 1028.18C1179.80 1030.84 1179.79 1033.50 1179.78 1036.16C1179.78 1038.82 1179.77 1041.47 1179.77 1044.13C1179.76 1046.79 1179.76 1049.45 1179.75 1052.11C1179.75 1054.77 1179.75 1057.43 1179.75 1060.09C1179.75 1062.75 1179.75 1065.41 1179.75 1068.07C1179.75 1070.73 1179.76 1073.39 1179.76 1076.05C1179.77 1078.71 1179.78 1081.37 1179.79 1084.03C1179.80 1086.70 1179.82 1089.36 1179.83 1092.02C1179.85 1094.68 1179.87 1097.34 1179.90 1100.00L1179.90 1099.99C1179.91 1097.35 1179.93 1094.71 1179.94 1092.07C1179.95 1089.42 1179.96 1086.77 1179.98 1084.13C1179.99 1081.48 1180.00 1078.83 1180.01 1076.17C1180.02 1073.52 1180.03 1070.86 1180.04 1068.21C1180.04 1065.55 1180.05 1062.89 1180.06 1060.23C1180.07 1057.57 1180.08 1054.91 1180.09 1052.24C1180.10 1049.58 1180.11 1046.91 1180.12 1044.25C1180.13 1041.58 1180.14 1038.91 1180.15 1036.24C1180.16 1033.57 1180.17 1030.90 1180.18 1028.23C1180.19 1025.56 1180.20 1022.89 1180.22 1020.22C1180.23 1017.54 1180.25 1014.87 1180.26 1012.19C1180.28 1009.52 1180.29 1006.84 1180.31 1004.17C1180.33 1001.49 1180.35 998.81 1180.37 996.14C1180.39 993.46 1180.41 990.78 1180.44 988.10C1180.46 985.42 1180.49 982.75 1180.51 980.07C1180.54 977.39 1180.57 974.71 1180.60 972.03C1180.64 969.36 1180.67 966.68 1180.71 964.00C1180.74 961.32 1180.78 958.64 1180.82 955.97C1180.87 953.29 1180.91 950.61 1180.96 947.94C1181.00 945.26 1181.05 942.58 1181.11 939.91C1181.16 937.23 1181.21 934.56 1181.27 931.89C1181.33 929.21 1181.39 926.54 1181.46 923.87C1181.52 921.20 1181.59 918.52 1181.66 915.86C1181.74 913.19 1181.81 910.52 1181.89 907.85C1181.97 905.18 1182.05 902.52 1182.14 899.85C1182.23 897.19 1182.32 894.53 1182.41 891.87C1182.51 889.20 1182.61 886.55 1182.72 883.89C1182.82 881.23 1182.94 878.57 1183.06 875.92C1183.18 873.27 1183.31 870.61 1183.45 867.97C1183.59 865.32 1183.74 862.67 1183.90 860.02C1184.06 857.38 1184.23 854.73 1184.42 852.09C1184.60 849.45 1184.80 846.82 1185.01 844.18C1185.23 841.54 1185.46 838.91 1185.70 836.28C1185.94 833.65 1186.21 831.02 1186.48 828.40C1186.76 825.77 1187.06 823.15 1187.38 820.53C1187.69 817.92 1188.03 815.30 1188.39 812.69C1188.74 810.08 1189.12 807.47 1189.52 804.86C1189.92 802.26 1190.35 799.65 1190.80 797.06C1191.25 794.46 1191.72 791.86 1192.22 789.27C1192.72 786.68 1193.25 784.09 1193.80 781.51C1194.35 778.92 1194.94 776.34 1195.55 773.77C1196.16 771.19 1196.80 768.62 1197.47 766.05C1198.14 763.49 1198.85 760.92 1199.58 758.36C1200.32 755.80 1201.09 753.25 1201.89 750.70C1202.69 748.15 1203.53 745.60 1204.41 743.07C1205.28 740.53 1206.19 738.00 1207.14 735.49C1208.09 732.97 1209.08 730.47 1210.11 727.98C1211.14 725.50 1212.21 723.03 1213.32 720.58C1214.44 718.12 1215.60 715.69 1216.80 713.29C1218.00 710.88 1219.25 708.49 1220.54 706.14C1221.84 703.78 1223.18 701.45 1224.58 699.15C1225.97 696.85 1227.41 694.58 1228.90 692.34C1230.38 690.10 1231.91 687.89 1233.48 685.70C1235.05 683.52 1236.65 681.36 1238.29 679.23C1239.93 677.09 1241.60 674.99 1243.30 672.90C1245.00 670.82 1246.73 668.76 1248.48 666.72C1250.23 664.69 1252.00 662.67 1253.79 660.67C1255.58 658.68 1257.38 656.71 1259.21 654.75C1261.03 652.80 1262.87 650.86 1264.73 648.95C1266.59 647.03 1268.46 645.14 1270.35 643.26C1272.24 641.38 1274.15 639.53 1276.07 637.69C1277.99 635.85 1279.93 634.02 1281.88 632.22C1283.83 630.41 1285.80 628.63 1287.78 626.86C1289.76 625.09 1291.76 623.33 1293.76 621.60C1295.77 619.86 1297.79 618.14 1299.83 616.43C1301.86 614.72 1303.91 613.03 1305.97 611.36C1308.03 609.68 1310.10 608.02 1312.18 606.37C1314.27 604.73 1316.36 603.09 1318.47 601.48C1320.57 599.86 1322.69 598.25 1324.81 596.66C1326.94 595.07 1329.08 593.49 1331.22 591.92C1333.37 590.35 1335.53 588.79 1337.69 587.25C1339.86 585.71 1342.03 584.17 1344.22 582.65C1346.40 581.13 1348.59 579.62 1350.79 578.12C1352.99 576.62 1355.20 575.13 1357.41 573.65C1359.62 572.17 1361.85 570.70 1364.07 569.23C1366.30 567.77 1368.53 566.32 1370.77 564.87C1373.01 563.43 1375.26 561.99 1377.51 560.56C1379.76 559.13 1382.02 557.71 1384.28 556.30C1386.54 554.88 1388.81 553.48 1391.08 552.08C1393.36 550.68 1395.63 549.29 1397.92 547.91C1400.20 546.53 1402.49 545.15 1404.78 543.79C1407.07 542.42 1409.37 541.06 1411.67 539.71C1413.98 538.36 1416.28 537.02 1418.60 535.69C1420.91 534.36 1423.23 533.03 1425.55 531.72C1427.87 530.40 1430.20 529.10 1432.53 527.80C1434.87 526.50 1437.20 525.21 1439.55 523.93C1441.89 522.65 1444.24 521.38 1446.59 520.11C1448.94 518.85 1451.30 517.60 1453.66 516.35C1456.02 515.10 1458.39 513.87 1460.76 512.64C1463.13 511.41 1465.51 510.20 1467.89 508.99C1470.27 507.78 1472.65 506.58 1475.04 505.39C1477.43 504.20 1479.82 503.02 1482.22 501.85C1484.62 500.68 1487.02 499.52 1489.43 498.37C1491.84 497.21 1494.25 496.07 1496.67 494.94C1499.08 493.81 1501.51 492.69 1503.93 491.57C1506.36 490.46 1508.79 489.36 1511.22 488.27C1513.65 487.18 1516.09 486.09 1518.53 485.02C1520.98 483.95 1523.42 482.89 1525.87 481.84C1528.32 480.78 1530.78 479.74 1533.24 478.71C1535.70 477.68 1538.16 476.66 1540.63 475.65C1543.10 474.64 1545.57 473.64 1548.04 472.65C1550.52 471.66 1553.00 470.69 1555.48 469.72C1557.97 468.75 1560.45 467.80 1562.95 466.85C1565.44 465.90 1567.93 464.97 1570.43 464.05C1572.93 463.12 1575.44 462.21 1577.94 461.31C1580.45 460.41 1582.96 459.52 1585.48 458.64C1587.99 457.76 1590.51 456.89 1593.03 456.04C1595.55 455.18 1598.08 454.34 1600.61 453.50C1603.14 452.67 1605.67 451.85 1608.21 451.04C1610.75 450.23 1613.29 449.43 1615.83 448.65C1618.37 447.86 1620.92 447.09 1623.47 446.32C1626.02 445.56 1628.58 444.81 1631.14 444.07C1633.70 443.33 1636.26 442.61 1638.82 441.89C1641.39 441.18 1643.96 440.48 1646.53 439.79C1649.10 439.10 1651.68 438.42 1654.25 437.76C1656.83 437.09 1659.41 436.44 1662.00 435.80"/>
</g>
<g id="axes" stroke="#000" fill="none" stroke-linecap="round">
<line x1="259.5" y1="47.5" x2="2006.5" y2="47.5" stroke-width="5"/>
<line x1="259.5" y1="1293.5" x2="2006.5" y2="1293.5" stroke-width="5"/>
<line x1="277" y1="47.5" x2="277" y2="1311.8" stroke-width="4"/>
<line x1="1986.5" y1="47.5" x2="1986.5" y2="1293.5" stroke-width="5"/>
<line x1="259" y1="204.0" x2="277" y2="204.0" stroke-width="4"/>
<line x1="259" y1="359.0" x2="277" y2="359.0" stroke-width="4"/>
<line x1="259" y1="515.0" x2="277" y2="515.0" stroke-width="4"/>
<line x1="259" y1="671.0" x2="277" y2="671.0" stroke-width="4"/>
<line x1="259" y1="827.0" x2="277" y2="827.0" stroke-width="4"/>
<line x1="259" y1="982.0" x2="277" y2="982.0" stroke-width="4"/>
<line x1="259" y1="1138.0" x2="277" y2="1138.0" stroke-width="4"/>
<line x1="606.0" y1="1293.5" x2="606.0" y2="1311.8" stroke-width="4"/>
<line x1="936.0" y1="1293.5" x2="936.0" y2="1311.8" stroke-width="4"/>
<line x1="1265.0" y1="1293.5" x2="1265.0" y2="1311.8" stroke-width="4"/>
<line x1="1595.0" y1="1293.5" x2="1595.0" y2="1311.8" stroke-width="4"/>
<line x1="1924.0" y1="1293.5" x2="1924.0" y2="1311.8" stroke-width="4"/>
</g>
<g id="ticklabels">
<text class="tick" transform="translate(225 70.5) scale(1 1.04)" text-anchor="end">1</text>
<text class="tick" transform="translate(225 227.0) scale(1 1.04)" text-anchor="end">0</text>
<text class="tick" transform="translate(225 382.0) scale(1 1.04)" text-anchor="end">-1</text>
<text class="tick" transform="translate(225 538.0) scale(1 1.04)" text-anchor="end">-2</text>
<text class="tick" transform="translate(225 694.0) scale(1 1.04)" text-anchor="end">-3</text>
<text class="tick" transform="translate(225 850.0) scale(1 1.04)" text-anchor="end">-4</text>
<text class="tick" transform="translate(225 1005.0) scale(1 1.04)" text-anchor="end">-5</text>
<text class="tick" transform="translate(225 1161.0) scale(1 1.04)" text-anchor="end">-6</text>
<text class="tick" transform="translate(225 1316.5) scale(1 1.04)" text-anchor="end">-7</text>
<text class="tick" transform="translate(276.6 1407) scale(1 1.04)" text-anchor="middle">-1.0</text>
<text class="tick" transform="translate(606.0 1407) scale(1 1.04)" text-anchor="middle">-0.8</text>
<text class="tick" transform="translate(935.4 1407) scale(1 1.04)" text-anchor="middle">-0.6</text>
<text class="tick" transform="translate(1264.8 1407) scale(1 1.04)" text-anchor="middle">-0.4</text>
<text class="tick" transform="translate(1594.2 1407) scale(1 1.04)" text-anchor="middle">-0.2</text>
<text class="tick" transform="translate(1923.6 1407) scale(1 1.04)" text-anchor="middle">0.0</text>
</g>
<text class="axt" transform="translate(1024.5 1549) scale(1 1.03)">E [mV]</text>
<text class="axt" style="font-size:78.2px" transform="translate(106.5 932.3) rotate(-90)">log i [mA.cm<tspan dy="-30.6">-</tspan><tspan dx="-0.7">2</tspan><tspan dy="30.6" dx="2.6">]</tspan></text>
<g id="legend">
<rect x="298.5" y="923" width="617.5" height="354.5" fill="#fefefe" stroke="none"/>
<path fill="#000" fill-rule="evenodd" d="M297 921H917Q918 921 918 922V1279Q918 1280 917 1280H297Q296 1280 296 1279V922Q296 921 297 921ZM301 925.2V1275H914V925.2Z"/>
<line x1="334" y1="991.0" x2="465" y2="991.0" stroke="#fb0000" stroke-width="16.4" stroke-linecap="round"/>
<text class="leg" x="497" y="1010.8">Ground p500</text>
<line x1="334" y1="1064.0" x2="465" y2="1064.0" stroke="#000000" stroke-width="16.4" stroke-linecap="round"/>
<text class="leg" x="497" y="1083.6">Sandblasted</text>
<line x1="334" y1="1137.0" x2="465" y2="1137.0" stroke="#0000ff" stroke-width="16.4" stroke-linecap="round"/>
<text class="leg" x="497" y="1156.4">Ground + MnP</text>
<line x1="334" y1="1210.0" x2="465" y2="1210.0" stroke="#00c090" stroke-width="16.4" stroke-linecap="round"/>
<text class="leg" x="497" y="1229.2">Sanbl. + MnP</text>
</g>
</svg>
</body>
</html>
